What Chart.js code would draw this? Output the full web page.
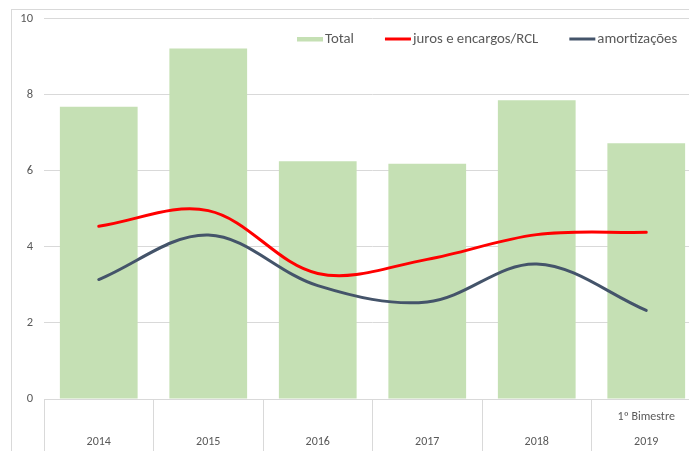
<!DOCTYPE html>
<html>
<head>
<meta charset="utf-8">
<script src="https://cdn.jsdelivr.net/npm/chart.js@4/dist/chart.umd.min.js"></script>
<style>
  html, body { margin: 0; padding: 0; background: #fff; overflow: hidden; }
  #wrap { width: 701px; height: 451px; }
</style>
</head>
<body>
<div id="wrap"><canvas id="c" width="701" height="451"></canvas></div>
<script>
// ---- data ----
const categories = [["", "2014"], ["", "2015"], ["", "2016"], ["", "2017"], ["", "2018"], ["1º Bimestre", "2019"]];
const seriesNames = ["Total", "juros e encargos/RCL", "amortizações"];
const totalValues = [7.68, 9.21, 6.25, 6.18, 7.85, 6.72];
const jurosValues = [4.54, 4.95, 3.30, 3.67, 4.32, 4.38];
const amortValues = [3.14, 4.31, 2.98, 2.55, 3.55, 2.33];
const yTicks = [0, 2, 4, 6, 8, 10];

const FONT = "Carlito, Lato, 'Liberation Sans', sans-serif";
const TEXT = "#595959";
const GRID = "#d9d9d9";

// frame of the chart object (left and top edges visible)
const framePlugin = {
  id: 'frame',
  beforeDraw(chart) {
    const ctx = chart.ctx;
    ctx.save();
    ctx.strokeStyle = GRID;
    ctx.lineWidth = 1;
    ctx.strokeRect(11.5, 9.5, chart.width + 20, chart.height + 20);
    ctx.restore();
  }
};

// legend drawn inside the plot area, top right
const legendPlugin = {
  id: 'insideLegend',
  afterDraw(chart) {
    const ctx = chart.ctx;
    const area = chart.chartArea;
    ctx.save();
    ctx.font = "14.8px " + FONT;
    ctx.textBaseline = 'middle';
    ctx.textAlign = 'left';
    let x = area.left + 253;
    const y = area.top + 21;
    chart.data.datasets.forEach((ds) => {
      const symW = 26;
      if (ds.type === 'line') {
        ctx.strokeStyle = ds.borderColor;
        ctx.lineWidth = 3;
        ctx.beginPath();
        ctx.moveTo(x, y - 0.5);
        ctx.lineTo(x + symW, y - 0.5);
        ctx.stroke();
      } else {
        ctx.fillStyle = ds.backgroundColor;
        ctx.fillRect(x, y - 2.5, symW, 4.5);
      }
      x += symW + 2;
      ctx.fillStyle = TEXT;
      ctx.fillText(ds.label, x, y);
      x += ctx.measureText(ds.label).width + 31;
    });
    ctx.restore();
  }
};

new Chart(document.getElementById('c'), {
  data: {
    labels: categories,
    datasets: [
      {
        type: 'bar',
        label: seriesNames[0],
        data: totalValues,
        backgroundColor: '#C5E0B4',
        borderWidth: 0,
        barPercentage: 0.71,
        categoryPercentage: 1.0,
        order: 3
      },
      {
        type: 'line',
        label: seriesNames[1],
        data: jurosValues,
        borderColor: '#FF0000',
        backgroundColor: '#FF0000',
        borderWidth: 3,
        tension: 0.35,
        pointRadius: 0,
        borderCapStyle: 'round',
        fill: false,
        order: 2
      },
      {
        type: 'line',
        label: seriesNames[2],
        data: amortValues,
        borderColor: '#44546A',
        backgroundColor: '#44546A',
        borderWidth: 3,
        tension: 0.35,
        pointRadius: 0,
        borderCapStyle: 'round',
        fill: false,
        order: 1
      }
    ]
  },
  options: {
    responsive: false,
    animation: false,
    devicePixelRatio: 1,
    layout: { padding: { top: 17, left: 0, right: 0, bottom: 0 } },
    plugins: {
      legend: { display: false },
      tooltip: { enabled: false }
    },
    scales: {
      x: {
        offset: true,
        afterFit(scale) { scale.height = 52; },
        grid: {
          offset: true,
          drawOnChartArea: false,
          drawTicks: true,
          tickLength: 52,
          color: GRID
        },
        border: { display: true, color: GRID },
        ticks: {
          color: TEXT,
          padding: -46,
          maxRotation: 0,
          autoSkip: false,
          font: { family: FONT, size: 12, lineHeight: '24.5px' }
        }
      },
      y: {
        min: 0,
        max: 10,
        afterFit(scale) { scale.width = 44; },
        afterBuildTicks(scale) { scale.ticks = yTicks.map(v => ({ value: v })); },
        grid: { color: GRID, drawTicks: false },
        border: { display: false },
        ticks: {
          color: TEXT,
          padding: 11,
          font: { family: FONT, size: 12.5 }
        }
      }
    }
  },
  plugins: [framePlugin, legendPlugin]
});
</script>
</body>
</html>
